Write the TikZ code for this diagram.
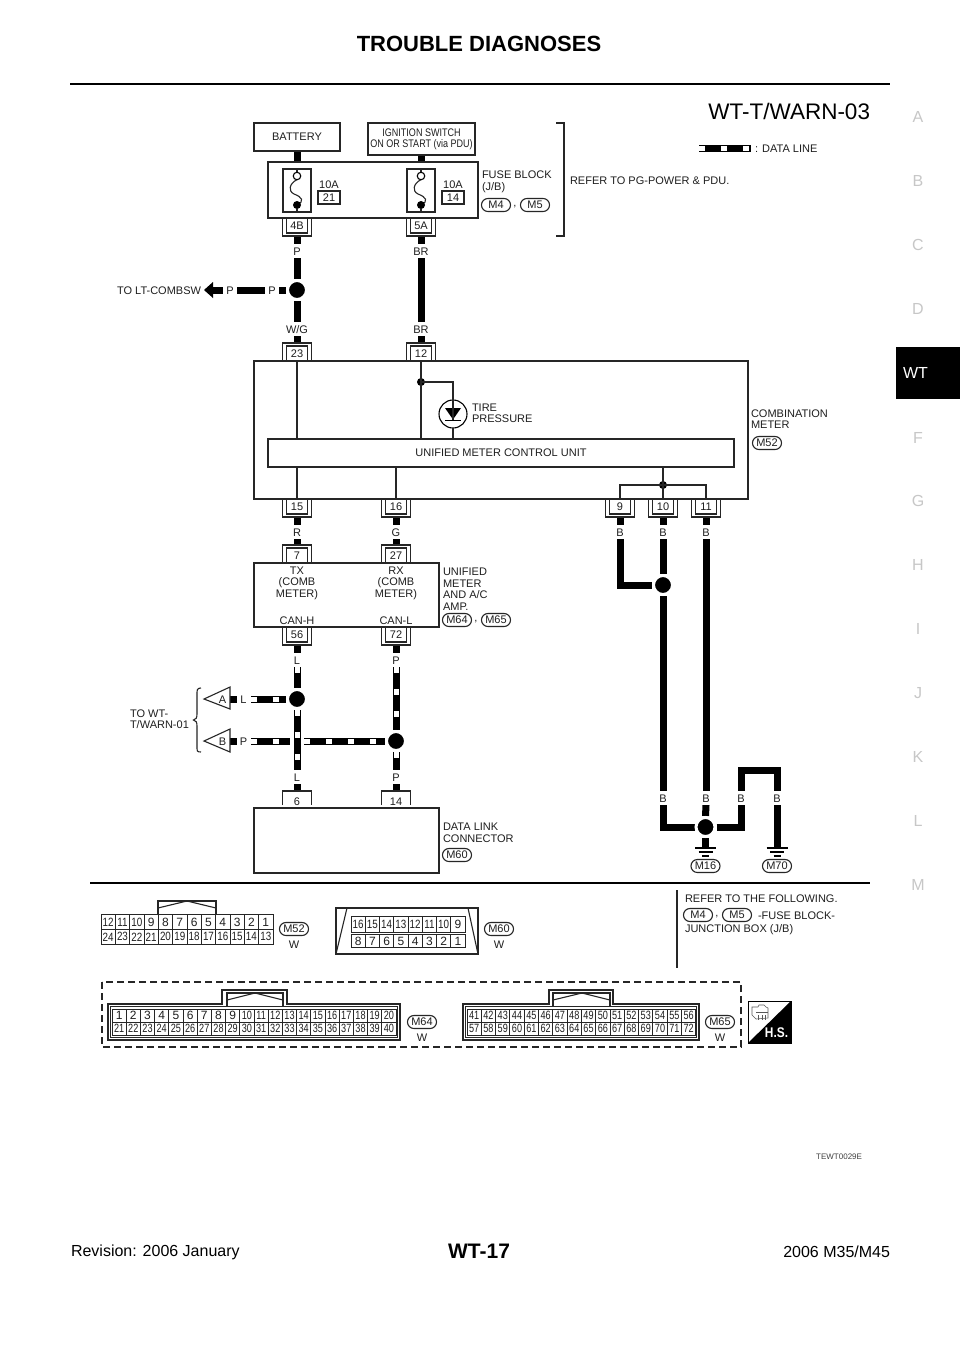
\documentclass[tikz,border=0pt]{standalone}
\usepackage{fontspec}
\setmainfont{Liberation Sans}
\usetikzlibrary{backgrounds}
\tikzset{
  every node/.style={font=\fontsize{11}{11.5}\selectfont,inner sep=0pt,outer sep=0pt,text=black!88},
  thinl/.style={line width=1.1pt,draw=black!85},
  boxs/.style={draw=black!85,line width=1.1pt,align=center},
  wire/.style={line width=7pt,draw=black,line cap=butt,line join=miter},
  datawhite/.style={line width=5pt,draw=white,dash pattern=on 6pt off 16pt,line cap=butt},
  wlabel/.style={fill=white,minimum width=14pt,minimum height=14pt},
  pinn/.style={fill=white,minimum width=29pt,minimum height=18pt},
  jun/.style={circle,fill=black,draw=white,line width=3pt,minimum size=19pt,outer sep=1.5pt},
  smalljun/.style={circle,fill=black,minimum size=8pt},
  ovalm/.style={draw=black!85,line width=1.1pt,rounded corners=6.4pt,minimum width=29pt,minimum height=13pt},
  lefttxt/.style={anchor=west,align=left},
  cell/.style={draw=black!85,line width=0.9pt,font=\fontsize{12}{13}\selectfont},
  side/.style={font=\fontsize{16}{18}\selectfont,text=black!22},
}
\newcommand\bx[6]{\pgfmathsetmacro\bw{#4-#2}\pgfmathsetmacro\bh{#5-#3}\pgfmathsetmacro\bcx{(#2+#4)/2}\pgfmathsetmacro\bcy{(#3+#5)/2}\node[boxs,minimum width=\bw pt,minimum height=\bh pt] (#1) at (\bcx,\bcy) {#6};}
\newcommand\pindown[4]{\node[pinn] (#1) at (#2,#3+9) {};\node (#1t) at (#2,#3+8) {#4};
  \draw[thinl] (#2-14.5,#3+1)--(#2-14.5,#3+18)--(#2+14.5,#3+18)--(#2+14.5,#3+1);
  \draw[thinl] (#2-10.5,#3)--(#2-10.5,#3+15)--(#2+10.5,#3+15)--(#2+10.5,#3);}
\newcommand\pinup[4]{\node[pinn] (#1) at (#2,#3-9) {};\node (#1t) at (#2,#3-7.5) {#4};
  \draw[thinl] (#2-14.5,#3-1)--(#2-14.5,#3-18)--(#2+14.5,#3-18)--(#2+14.5,#3-1);
  \draw[thinl] (#2-10.5,#3)--(#2-10.5,#3-15)--(#2+10.5,#3-15)--(#2+10.5,#3);}
\newcommand\pinopen[4]{\node[fill=white,minimum width=29pt,minimum height=14pt] (#1) at (#2,#3+7) {};\node (#1t) at (#2,#3+11) {#4};
  \draw[thinl] (#2-14.5,#3+14)--(#2-14.5,#3)--(#2+14.5,#3)--(#2+14.5,#3+14);}
\newcommand\wl[4]{\node[wlabel] (#1) at (#2,#3) {};\node (#1t) at (#2,#3+.5) {#4};}
\newcommand\ov[4]{\node[ovalm] (#1) at (#2,#3) {#4};}
\newcommand\cells[7]{\foreach \n [count=\i from 0] in {#7}{
  \node[cell,minimum width=#4 pt,minimum height=#5 pt] (#1-\n) at (#2+\i*#4+#4/2,#3)
   {\ifnum\n>9 \scalebox{#6}[1]{\n}\else\n\fi};}}
\newcommand\fuse[2]{%
  \node[boxs,minimum width=28pt,minimum height=43pt] (#1) at (#2,190.5) {};
  \draw[thinl] (#1.north) -- (#2,172.5);
  \draw[thinl] (#2,179.5) .. controls (#2-8,184) and (#2-9,191) .. (#2-3,194) .. controls (#2+5,197) and (#2+8,201) .. (#2,205);
  \node[circle,draw=black,line width=1.1pt,fill=white,minimum size=7.5pt] (#1o) at (#2,176) {};
  \node[circle,fill=black,minimum size=8pt] (#1f) at (#2,205) {};
  \draw[thinl] (#1f) -- (#1.south);}
\begin{document}
\begin{tikzpicture}[x=1pt,y=-1pt]
\useasboundingbox (0,0) rectangle (960,1358);
\begin{pgfonlayer}{background}
\fill[white] (0,0) rectangle (960,1358);
\end{pgfonlayer}
% ---- page furniture
\node[font=\bfseries\fontsize{22}{24}\selectfont,text=black] (head) at (479,44) {TROUBLE DIAGNOSES};
\coordinate (ruleL) at (70,84); \coordinate (ruleR) at (890,84);
\draw[line width=2.5pt,black] (ruleL) -- (ruleR);
\node[anchor=east,font=\fontsize{22.5}{24}\selectfont,text=black] (title) at (870,111) {WT-T/WARN-03};
\foreach \l/\yy in {A/117,B/181,C/245,D/309,F/438,G/501,H/565,I/629,J/693,K/757,L/821,M/885}
  \node[side] (side\l) at (918,\yy) {\l};
\node[fill=black,minimum width=64pt,minimum height=52pt,anchor=north west] (wtbox) at (896,346.5) {};
\node[font=\fontsize{16}{18}\selectfont,text=white,anchor=west] (wttxt) at (903,373) {WT};
\node[anchor=west,font=\fontsize{16}{18}\selectfont,text=black] (rev) at (71,1252) {Revision: 2006 January};
\node[font=\bfseries\fontsize{21}{23}\selectfont,text=black] (pg) at (479,1251) {WT-17};
\node[anchor=east,font=\fontsize{16}{18}\selectfont,text=black] (mdl) at (890,1252) {2006 M35/M45};
\node[anchor=east,font=\fontsize{8}{9}\selectfont,text=black!75] (tew) at (862,1157) {TEWT0029E};
% ---- legend
\coordinate (lega) at (699,148); \coordinate (legb) at (751,148);
\node[lefttxt] (legt) at (755,148.5) {: DATA LINE};
\begin{pgfonlayer}{background}
\draw[wire] (lega) -- (legb); \draw[datawhite] (lega) -- (legb);
\end{pgfonlayer}
% ---- connector pins (first, so that boxes are on top)
\pindown{c4B}{297}{218}{4B}
\pindown{c5A}{421}{218}{5A}
\pinup{c23}{297}{361}{23}
\pinup{c12}{421}{361}{12}
\pindown{c15}{297}{499}{15}
\pindown{c16}{396}{499}{16}
\pindown{c9}{620}{499}{9}
\pindown{c10}{663}{499}{10}
\pindown{c11}{706}{499}{11}
\pinup{c7}{297}{563}{7}
\pinup{c27}{396}{563}{27}
\pindown{c56}{297}{627}{56}
\pindown{c72}{396}{627}{72}
\pinopen{c6}{297}{791}{6}
\pinopen{c14}{396}{791}{14}
% ---- boxes
\bx{bat}{254}{123}{340}{151}{BATTERY}
\bx{ign}{368}{123}{475}{155}{\scalebox{.82}[1]{IGNITION SWITCH}\\[-.5pt]\scalebox{.82}[1]{ON OR START (via PDU)}}
\bx{fuseb}{268}{162}{478}{218}{}
\fuse{fa}{297}
\fuse{fb}{421}
\node (a10) at (329,184.5) {10A};
\bx{f21}{318}{191}{340}{204}{21}
\node (b10) at (453,184.5) {10A};
\bx{f14}{442}{191}{464}{204}{14}
\node[lefttxt] (fbl) at (482,182) {FUSE BLOCK\\(J/B)};
\ov{m4}{496}{205}{M4}
\node (cm1) at (515,207) {,};
\ov{m5}{535}{205}{M5}
\coordinate (brA) at (556,123); \coordinate (brB) at (564,123); \coordinate (brC) at (564,236); \coordinate (brD) at (556,236);
\draw[thinl] (brA) -- (brB) -- (brC) -- (brD);
\node[lefttxt] (refpg) at (570,180.5) {REFER TO PG-POWER \& PDU.};
\bx{meter}{254}{361}{748}{499}{}
\bx{cu}{268}{439}{734}{467}{UNIFIED METER CONTROL UNIT}
\node[lefttxt] (cmb) at (751,419) {COMBINATION\\METER};
\ov{m52}{767}{443}{M52}
\node[smalljun] (jp) at (421,382) {};
\node[smalljun] (jm) at (663,485) {};
\node[circle,draw=black,line width=1.1pt,minimum size=28pt] (lamp) at (453,414) {};
\node[lefttxt] (tp) at (472,413.5) {TIRE\\PRESSURE};
\bx{amp}{254}{563}{439}{627}{}
\node[align=center] (tx) at (297,583) {TX\\(COMB\\METER)};
\node[align=center] (rx) at (396,583) {RX\\(COMB\\METER)};
\node (canh) at (297,620.5) {CAN-H};
\node (canl) at (396,620.5) {CAN-L};
\node[lefttxt] (amt) at (443,589) {UNIFIED\\METER\\AND A/C\\AMP.};
\ov{m64a}{457}{620}{M64}
\node (cm2) at (476,622) {,};
\ov{m65a}{496}{620}{M65}
\bx{dlc}{254}{808}{439}{873}{}
\node[lefttxt] (dlt) at (443,833) {DATA LINK\\CONNECTOR};
\ov{m60a}{457}{855}{M60}
% thin wires in the boxes
\draw[thinl] (c23.south) -- (cu.north -| c23.south);
\draw[thinl] (c12.south) -- (cu.north -| c12.south);
\draw[thinl] (jp.center) -| (lamp.north);
\draw[thinl] (lamp.south) -- (cu.north -| lamp.south);
\draw[thinl] (c15.north) -- (cu.south -| c15.north);
\draw[thinl] (c16.north) -- (cu.south -| c16.north);
\draw[thinl] (c10.north) -- (cu.south -| c10.north);
\draw[thinl] (c9.north) |- (jm.center) -| (c11.north);
% diode
\coordinate (dL) at (445,408); \coordinate (dR) at (461,408); \coordinate (dT) at (453,419.5);
\coordinate (bL) at (445,420.5); \coordinate (bR) at (461,420.5);
\fill[black] (dL) -- (dR) -- (dT) -- cycle;
\draw[line width=1.2pt,black] (bL) -- (bR);
\draw[thinl] (lamp.north) -- (dT);
% ---- wire labels and junctions
\wl{lP1}{297}{251}{P}
\node[jun] (jt) at (297,290) {};
\wl{lWG}{297}{329}{W/G}
\wl{lBR1}{421}{251}{BR}
\wl{lBR2}{421}{329}{BR}
\wl{lPa}{230}{290}{P}
\wl{lPb}{272}{290}{P}
\node[anchor=east] (lt) at (201,290.5) {TO LT-COMBSW};
\coordinate (tipA) at (204,290); \coordinate (tipB) at (213,282); \coordinate (tipC) at (213,298); \coordinate (tipM) at (212,290);
\fill[black] (tipA) -- (tipB) -- (tipC) -- cycle;
\wl{lR}{297}{532}{R}
\wl{lG}{396}{532}{G}
\wl{lB9}{620}{532}{B}
\wl{lB10}{663}{532}{B}
\wl{lB11}{706}{532}{B}
\node[jun] (jb) at (663,585) {};
\wl{lB10b}{663}{798}{B}
\wl{lB11b}{706}{798}{B}
\wl{lB3}{741}{798}{B}
\wl{lB4}{777}{798}{B}
\node[jun] (jg) at (705.5,827) {};
\coordinate (capT) at (759,770.5);
\coordinate (gn1) at (705.5,848); \coordinate (gn2) at (777,848);
\draw[line width=1.1pt,black] (695,848) -- (716,848) (698.5,852) -- (712.5,852) (702,856) -- (709,856);
\draw[line width=1.1pt,black] (766.5,848) -- (787.5,848) (770,852) -- (784,852) (773.5,856) -- (780.5,856);
\ov{m16}{705.5}{866}{M16}
\ov{m70}{777}{866}{M70}
\wl{lL1}{297}{660}{L}
\wl{lP3}{396}{660}{P}
\node[jun] (jl) at (297,699) {};
\node[jun] (jr) at (396,741) {};
\wl{lL2}{297}{777}{L}
\wl{lP4}{396}{777}{P}
\wl{lLa}{243.5}{699}{L}
\wl{lPc}{243.5}{741}{P}
\coordinate (triA) at (230,699); \coordinate (triB) at (230,741);
\coordinate (crossL) at (290,741); \coordinate (crossR) at (304,741);
\draw[thinl] (204,699) -- (230,687) -- (230,709) -- cycle;
\draw[thinl] (204,741) -- (230,729) -- (230,752) -- cycle;
\node (ta) at (222.5,699.5) {A};
\node (tb) at (222.5,741.5) {B};
\draw[thinl] (201,688) .. controls (197,688) and (197,690) .. (197,694) -- (197,714) .. controls (197,718) and (196,719.5) .. (193.5,720) .. controls (196,720.5) and (197,722) .. (197,726) -- (197,747) .. controls (197,751) and (197,752) .. (201,752);
\node[lefttxt] (towt) at (130,719) {TO WT-\\T/WARN-01};
% ---- thick wires
\begin{pgfonlayer}{background}
\draw[wire] (bat.south) -- (fuseb.north -| bat.south);
\draw[wire] (ign.south) -- (fuseb.north -| ign.south);
\draw[wire] (c4B.south) -- (lP1.north);
\draw[wire] (lP1.south) -- (jt.north);
\draw[wire] (jt.south) -- (lWG.north);
\draw[wire] (lWG.south) -- (c23.north);
\draw[wire] (c5A.south) -- (lBR1.north);
\draw[wire] (lBR1.south) -- (lBR2.north);
\draw[wire] (lBR2.south) -- (c12.north);
\draw[wire] (jt.west) -- (lPb.east);
\draw[wire] (lPb.west) -- (lPa.east);
\draw[wire] (lPa.west) -- (tipM);
\draw[wire] (c15.south) -- (lR.north);
\draw[wire] (lR.south) -- (c7.north);
\draw[wire] (c16.south) -- (lG.north);
\draw[wire] (lG.south) -- (c27.north);
\draw[wire] (c9.south) -- (lB9.north);
\draw[wire] (lB9.south) |- (jb.west);
\draw[wire] (c10.south) -- (lB10.north);
\draw[wire] (lB10.south) -- (jb.north);
\draw[wire] (jb.south) -- (lB10b.north);
\draw[wire] (lB10b.south) |- (jg.west);
\draw[wire] (c11.south) -- (lB11.north);
\draw[wire] (lB11.south) -- (lB11b.north);
\draw[wire] (lB11b.south) -- (jg.north);
\draw[wire] (jg.south) -- (gn1);
\draw[wire] (jg.east) -| (lB3.south);
\draw[wire] (lB3.north) |- (capT) -| (lB4.north);
\draw[wire] (lB4.south) -- (gn2);
\draw[wire] (c56.south) -- (lL1.north);
\draw[wire] (c72.south) -- (lP3.north);
\draw[wire] (lL2.south) -- (c6.north);
\draw[wire] (lP4.south) -- (c14.north);
\draw[wire] (triA) -- (lLa.west);
\draw[wire] (triB) -- (lPc.west);
\foreach \pa/\pb in {lL1.south/jl.north,jl.south/lL2.north,lP3.south/jr.north,jr.south/lP4.north,lLa.east/jl.west,lPc.east/crossL,crossR/jr.west}{
  \draw[wire] (\pa) -- (\pb);
  \draw[datawhite] (\pa) -- (\pb);
}
\end{pgfonlayer}
% ---- lower section
\coordinate (sepL) at (90,883); \coordinate (sepR) at (870,883);
\draw[line width=1.6pt,black] (sepL) -- (sepR);
\coordinate (divT) at (677,890); \coordinate (divB) at (677,968);
\draw[line width=1.1pt,black!85] (divT) -- (divB);
\node[lefttxt] (reff) at (685,898.5) {REFER TO THE FOLLOWING.};
\ov{m4b}{698}{915}{M4}
\node (cm3) at (717,917) {,};
\ov{m5b}{737}{915}{M5}
\node[lefttxt] (fbj) at (758,915.5) {-FUSE BLOCK-};
\node[lefttxt] (jbx) at (685,929.5) {JUNCTION BOX (J/B)};
% M52
\cells{a}{101}{922.2}{14.33}{14.6}{.82}{12,11,10,9,8,7,6,5,4,3,2,1}
\cells{b}{101}{936.8}{14.33}{14.6}{.82}{24,23,22,21,20,19,18,17,16,15,14,13}
\draw[thinl] (158,915) -- (158,901) -- (216,901) -- (216,915);
\draw[thinl] (158,908) -- (187,901) -- (216,908);
\ov{m52b}{294}{929}{M52}
\node (w1) at (294,945) {W};
% M60
\draw[thinl] (336,908) rectangle (478,954);
\draw[thinl] (347,908) -- (336,954);
\draw[thinl] (468,908) -- (478,954);
\cells{c}{351}{924.5}{14.25}{16.5}{.82}{16,15,14,13,12,11,10,9}
\cells{d}{351}{941}{14.25}{13}{.82}{8,7,6,5,4,3,2,1}
\ov{m60b}{499}{929}{M60}
\node (w2) at (499,945) {W};
% dashed frame
\draw[line width=1.4pt,black!85,dash pattern=on 7pt off 4pt] (102,982) rectangle (741,1047);
% M64
\draw[thinl] (108,1004) -- (222,1004) -- (222,990) -- (287,990) -- (287,1004) -- (400,1004) -- (400,1040) -- (108,1040) -- cycle;
\draw[thinl] (110.5,1006.5) -- (397.5,1006.5) -- (397.5,1037.5) -- (110.5,1037.5) -- cycle;
\draw[thinl] (227,1006.5) -- (227,993) -- (283,993) -- (283,1006.5);
\draw[thinl] (227,1000) -- (255,993) -- (283,1000);
\cells{e}{112}{1015.5}{14.2}{13}{.76}{1,2,3,4,5,6,7,8,9,10,11,12,13,14,15,16,17,18,19,20}
\cells{f}{112}{1028.5}{14.2}{13}{.76}{21,22,23,24,25,26,27,28,29,30,31,32,33,34,35,36,37,38,39,40}
\ov{m64b}{422}{1022}{M64}
\node (w3) at (422,1038) {W};
% M65
\draw[thinl] (463,1004) -- (549,1004) -- (549,990) -- (613,990) -- (613,1004) -- (699,1004) -- (699,1040) -- (463,1040) -- cycle;
\draw[thinl] (465.5,1006.5) -- (696.5,1006.5) -- (696.5,1037.5) -- (465.5,1037.5) -- cycle;
\draw[thinl] (553,1006.5) -- (553,993) -- (610,993) -- (610,1006.5);
\draw[thinl] (553,1000) -- (582,993) -- (610,1000);
\cells{g}{467}{1015.5}{14.3}{13}{.76}{41,42,43,44,45,46,47,48,49,50,51,52,53,54,55,56}
\cells{h}{467}{1028.5}{14.3}{13}{.76}{57,58,59,60,61,62,63,64,65,66,67,68,69,70,71,72}
\ov{m65b}{720}{1022}{M65}
\node (w4) at (720,1038) {W};
% H.S. icon
\draw[line width=.8pt,black] (748,1001) rectangle (791,1043);
\fill[black] (791,1001) -- (791,1043) -- (748,1043) -- cycle;
\draw[line width=.6pt,black!65] (752,1007) -- (758,1007) -- (759,1005) -- (764,1005) -- (766,1007) -- (768,1008) -- (768,1018) -- (756,1019) -- (752,1015) -- cycle;
\draw[line width=.6pt,black!65] (756,1012) -- (768,1012) (758,1015) -- (758,1020) (762,1015) -- (762,1020) (765,1015) -- (765,1020);
\node[font=\bfseries\fontsize{14}{15}\selectfont,text=white] (hs) at (776.5,1033) {\scalebox{.85}[1]{H.S.}};
\end{tikzpicture}
\end{document}
